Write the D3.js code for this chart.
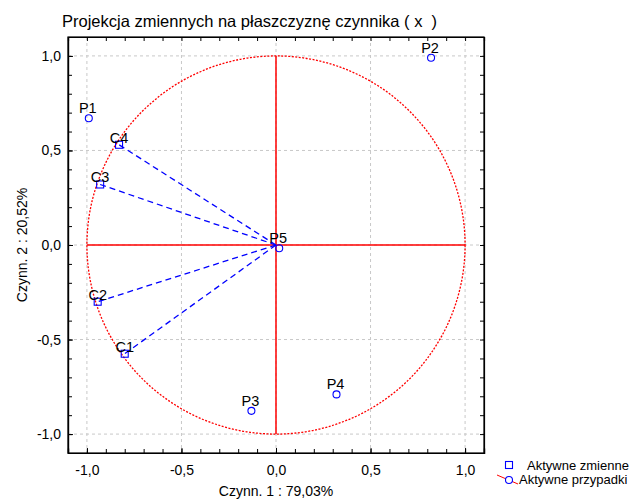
<!DOCTYPE html>
<html>
<head>
<meta charset="utf-8">
<script src="https://cdn.jsdelivr.net/npm/d3@7"></script>
<style>
  body { margin: 0; background: #fff; }
  text { font-family: Arial, "Liberation Sans", sans-serif; fill: #000; }
</style>
</head>
<body>
<svg id="chart" width="634" height="499"></svg>
<script>
// variables (squares) and cases (circles)
var varNames = ["C1", "C2", "C3", "C4"];
var varX = [-0.80, -0.943, -0.93, -0.83];
var varY = [-0.575, -0.30, 0.32, 0.53];

var caseNames = ["P1", "P2", "P3", "P4", "P5"];
var caseX = [-0.99, 0.82, -0.13, 0.32, 0.017];
var caseY = [0.67, 0.99, -0.877, -0.79, -0.017];

var majorTicks = [-1.0, -0.5, 0.0, 0.5, 1.0];
var minorTicks = d3.range(-11, 12).map(function(d) { return d / 10; });

var svg = d3.select("#chart");
var plotLeft = 68, plotRight = 484, plotTop = 37, plotBottom = 453;

var xScale = d3.scaleLinear().domain([-1.1, 1.1]).range([plotLeft, plotRight]);
var yScale = d3.scaleLinear().domain([-1.1, 1.1]).range([plotBottom, plotTop]);
var fmt = function(d) { return d3.format(".1f")(d).replace("−", "-").replace(".", ","); };

// grid
var grid = svg.append("g");
majorTicks.forEach(function(t) {
  grid.append("line").attr("x1", xScale(t)).attr("x2", xScale(t)).attr("y1", plotTop).attr("y2", plotBottom)
    .attr("stroke", "#c8c8c8").attr("stroke-dasharray", "3,3");
  grid.append("line").attr("y1", yScale(t)).attr("y2", yScale(t)).attr("x1", plotLeft).attr("x2", plotRight)
    .attr("stroke", "#c8c8c8").attr("stroke-dasharray", "3,3");
});

// unit circle
svg.append("circle")
  .attr("cx", xScale(0)).attr("cy", yScale(0))
  .attr("r", xScale(1) - xScale(0))
  .attr("fill", "none").attr("stroke", "#ff0000").attr("stroke-width", 1.3)
  .attr("stroke-dasharray", "2,1.5");

// red axes
svg.append("line").attr("x1", xScale(0)).attr("x2", xScale(0)).attr("y1", yScale(1)).attr("y2", yScale(-1))
  .attr("stroke", "#ff0000").attr("stroke-width", 1.5);
svg.append("line").attr("x1", xScale(-1)).attr("x2", xScale(1)).attr("y1", yScale(0)).attr("y2", yScale(0))
  .attr("stroke", "#ff0000").attr("stroke-width", 1.5);

// frame axes with inward ticks
function tickAxis(axisFn, scale, vals, size) {
  return axisFn(scale).tickValues(vals).tickSize(size).tickFormat("");
}
var xAxisB = svg.append("g").attr("transform", "translate(0," + plotBottom + ")")
  .call(d3.axisBottom(xScale).tickValues(majorTicks).tickSize(-5).tickFormat(fmt).tickPadding(12));
xAxisB.append("g").call(tickAxis(d3.axisBottom, xScale, minorTicks, -4));
svg.append("g").attr("transform", "translate(0," + plotTop + ")")
  .call(tickAxis(d3.axisTop, xScale, minorTicks, -4));
var yAxisL = svg.append("g").attr("transform", "translate(" + plotLeft + ",0)")
  .call(d3.axisLeft(yScale).tickValues(majorTicks).tickSize(-5).tickFormat(fmt).tickPadding(7));
yAxisL.append("g").call(tickAxis(d3.axisLeft, yScale, minorTicks, -4));
svg.append("g").attr("transform", "translate(" + plotRight + ",0)")
  .call(tickAxis(d3.axisRight, yScale, minorTicks, -4));
svg.selectAll(".domain").attr("stroke", "#000").attr("stroke-width", 1.2);
svg.selectAll(".tick line").attr("stroke", "#000");
svg.selectAll(".tick text").style("font-size", "14px").style("font-family", "Arial, 'Liberation Sans', sans-serif");
svg.append("rect").attr("x", plotLeft).attr("y", plotTop).attr("width", plotRight - plotLeft).attr("height", plotBottom - plotTop)
  .attr("fill", "none").attr("stroke", "#000").attr("stroke-width", 1.2);

// dashed vectors to variables
varNames.forEach(function(n, i) {
  svg.append("line")
    .attr("x1", xScale(0)).attr("y1", yScale(0))
    .attr("x2", xScale(varX[i])).attr("y2", yScale(varY[i]))
    .attr("stroke", "#0000ff").attr("stroke-width", 1.3).attr("stroke-dasharray", "6,4");
});

// variable markers
varNames.forEach(function(n, i) {
  var px = xScale(varX[i]), py = yScale(varY[i]);
  svg.append("rect").attr("x", px - 3.5).attr("y", py - 3.5).attr("width", 7).attr("height", 7)
    .attr("fill", "none").attr("stroke", "#0000ff").attr("stroke-width", 1.1);
  svg.append("text").attr("x", px).attr("y", py - 2).attr("text-anchor", "middle")
    .style("font-size", "14.5px").text(n);
});

// case markers
caseNames.forEach(function(n, i) {
  var px = xScale(caseX[i]), py = yScale(caseY[i]);
  svg.append("circle").attr("cx", px).attr("cy", py).attr("r", 3.5)
    .attr("fill", "none").attr("stroke", "#0000ff").attr("stroke-width", 1.1);
  svg.append("text").attr("x", px - 1).attr("y", py - 5).attr("text-anchor", "middle")
    .style("font-size", "14.5px").text(n);
});

// title and axis labels
svg.append("text").attr("x", 62).attr("y", 27).style("font-size", "16.5px").style("white-space", "pre")
  .text("Projekcja zmiennych na płaszczyznę czynnika ( x  )");
svg.append("text").attr("x", xScale(0)).attr("y", 496).attr("text-anchor", "middle")
  .style("font-size", "14px").text("Czynn. 1 : 79,03%");
svg.append("text").attr("transform", "translate(27," + yScale(0) + ") rotate(-90)")
  .attr("text-anchor", "middle").style("font-size", "14px").text("Czynn. 2 : 20,52%");

// legend
var lg = svg.append("g");
lg.append("rect").attr("x", 505.5).attr("y", 461.5).attr("width", 7).attr("height", 7)
  .attr("fill", "none").attr("stroke", "#0000ff").attr("stroke-width", 1.1);
lg.append("text").attr("x", 527).attr("y", 470).style("font-size", "13px").text("Aktywne zmienne");
lg.append("line").attr("x1", 497).attr("y1", 475).attr("x2", 518).attr("y2", 484)
  .attr("stroke", "#ff0000").attr("stroke-width", 1);
lg.append("circle").attr("cx", 509).attr("cy", 480).attr("r", 3.5)
  .attr("fill", "#fff").attr("stroke", "#0000ff").attr("stroke-width", 1.1);
lg.append("text").attr("x", 519).attr("y", 484).style("font-size", "13px").text("Aktywne przypadki");
</script>
</body>
</html>
